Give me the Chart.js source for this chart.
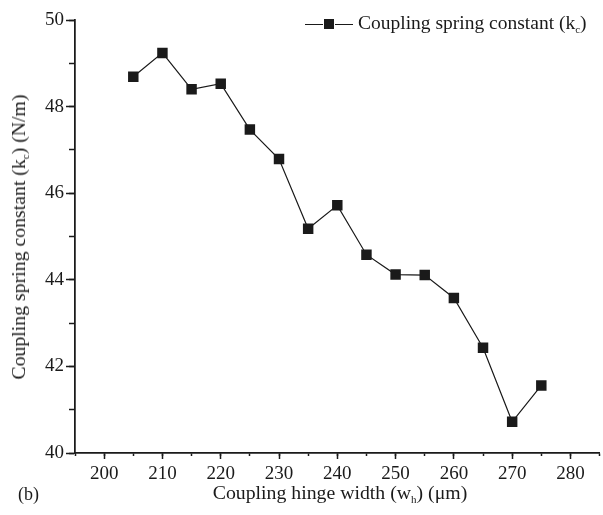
<!DOCTYPE html>
<html lang="en">
<head>
<meta charset="UTF-8">
<title>Coupling spring constant vs hinge width</title>
<script src="https://cdn.jsdelivr.net/npm/chart.js"></script>
<style>
    html, body { margin: 0; padding: 0; background: #fff; overflow: hidden; }
    .wrap { position: relative; width: 603px; height: 515px; overflow: hidden; font-family: "Liberation Serif", "DejaVu Serif", serif; color: #1a1a1a; }
    #chart { position: absolute; left: 0; top: 0; }
    .txt { position: absolute; white-space: nowrap; font-size: 19.8px; line-height: 1; }
    .txt sub { font-size: 11px; vertical-align: -4px; }
    .ytitle { left: 20px; top: 237px; transform: translate(-50%, -50%) rotate(-90deg); }
    .xtitle { left: 340px; top: 494px; transform: translate(-50%, -50%); }
    .tag { left: 18px; top: 485px; font-size: 18px; }
    .legend { left: 305px; top: 13px; font-size: 19.5px; display: flex; align-items: center; }
    .legend .ln { display: inline-block; width: 18px; height: 0; border-top: 1.2px solid #1a1a1a; }
    .legend .sq { display: inline-block; width: 10px; height: 10px; background: #1a1a1a; margin: 0 1px; }
    .legend .lbl { margin-left: 5px; }
</style>
</head>
<body>
<div class="wrap">
    <canvas id="chart" width="607" height="515"></canvas>
    <div class="txt ytitle">Coupling spring constant (k<sub>c</sub>) (N/m)</div>
    <div class="txt xtitle">Coupling hinge width (w<sub>h</sub>) (μm)</div>
    <div class="txt tag">(b)</div>
    <div class="txt legend"><span class="ln"></span><span class="sq"></span><span class="ln"></span><span class="lbl">Coupling spring constant (k<sub>c</sub>)</span></div>
</div>
<script>
    // hinge width (um)
    const hingeWidth = [205, 210, 215, 220, 225, 230, 235, 240, 245, 250, 255, 260, 265, 270, 275];
    // coupling spring constant kc (N/m)
    const springConst = [48.69, 49.24, 48.40, 48.53, 47.47, 46.79, 45.18, 45.72, 44.58, 44.12, 44.11, 43.58, 42.43, 40.72, 41.56];
    // labelled ticks
    const xTicks = [200, 210, 220, 230, 240, 250, 260, 270, 280];
    const yTicks = [40, 42, 44, 46, 48, 50];
    const xMin = 195, xMax = 285;
    const yMin = 40, yMax = 50;
    const ink = '#1a1a1a';
    const tickFont = { family: '"Liberation Serif", serif', size: 19 };

    const points = hingeWidth.map((w, i) => ({ x: w, y: springConst[i] }));

    new Chart(document.getElementById('chart'), {
        type: 'line',
        data: {
            datasets: [{
                label: 'Coupling spring constant (kc)',
                data: points,
                borderColor: ink,
                borderWidth: 1.2,
                backgroundColor: ink,
                pointStyle: 'rect',
                pointRadius: 7.4,
                pointHoverRadius: 7.4,
                pointBorderWidth: 0,
                tension: 0,
                fill: false
            }]
        },
        options: {
            responsive: false,
            animation: false,
            layout: { padding: { top: 20, left: 0, right: 0, bottom: 0 } },
            plugins: { legend: { display: false }, tooltip: { enabled: false } },
            scales: {
                x: {
                    type: 'linear', position: 'bottom', weight: 1,
                    min: xMin, max: xMax,
                    border: { color: ink, width: 1.5 },
                    grid: { drawOnChartArea: false, drawTicks: true, tickLength: 6, color: ink, tickWidth: 1.5 },
                    ticks: { color: ink, font: tickFont, padding: 4, autoSkip: false, maxRotation: 0 },
                    afterBuildTicks: s => { s.ticks = xTicks.map(v => ({ value: v })); },
                    afterFit: s => { s.height = 62; }
                },
                xMinor: {
                    type: 'linear', position: 'bottom', weight: 0,
                    min: xMin, max: xMax,
                    border: { color: ink, width: 1.5 },
                    grid: { drawOnChartArea: false, tickLength: 3, color: ink, tickWidth: 1.5 },
                    ticks: { stepSize: 5, display: false },
                    afterFit: s => { s.height = 0; }
                },
                y: {
                    type: 'linear', position: 'left', weight: 1,
                    min: yMin, max: yMax,
                    border: { color: ink, width: 1.5 },
                    grid: { drawOnChartArea: false, tickLength: 9, color: ink, tickWidth: 1.5 },
                    ticks: { color: ink, font: tickFont, padding: 2 },
                    afterBuildTicks: s => { s.ticks = yTicks.map(v => ({ value: v })); },
                    afterFit: s => { s.width = 75; }
                },
                yMinor: {
                    type: 'linear', position: 'left', weight: 0,
                    min: yMin, max: yMax,
                    border: { color: ink, width: 1.5 },
                    grid: { drawOnChartArea: false, tickLength: 6, color: ink, tickWidth: 1.5 },
                    ticks: { stepSize: 1, display: false },
                    afterFit: s => { s.width = 0; }
                }
            }
        }
    });
</script>
</body>
</html>
